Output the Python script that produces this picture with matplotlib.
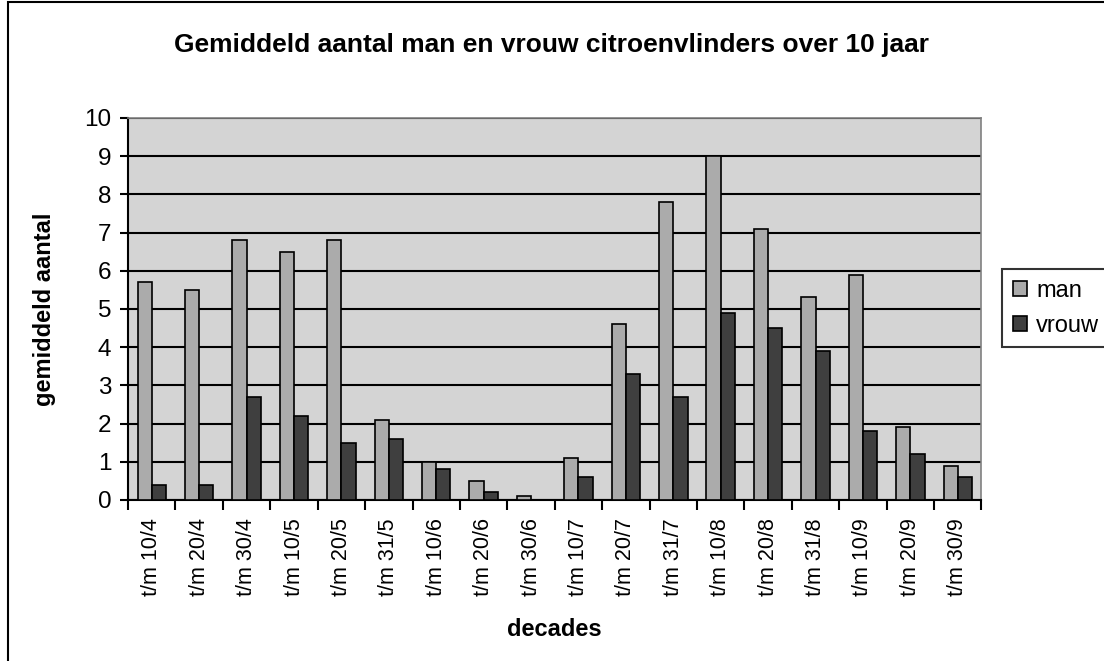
import numpy as np
import matplotlib.pyplot as plt
from matplotlib.patches import Rectangle

DECADES = ["t/m 10/4", "t/m 20/4", "t/m 30/4", "t/m 10/5", "t/m 20/5", "t/m 31/5",
           "t/m 10/6", "t/m 20/6", "t/m 30/6", "t/m 10/7", "t/m 20/7", "t/m 31/7",
           "t/m 10/8", "t/m 20/8", "t/m 31/8", "t/m 10/9", "t/m 20/9", "t/m 30/9"]
MAN = [5.7, 5.5, 6.8, 6.5, 6.8, 2.1, 1.0, 0.5, 0.1, 1.1, 4.6, 7.8, 9.0, 7.1, 5.3, 5.9, 1.9, 0.9]
VROUW = [0.4, 0.4, 2.7, 2.2, 1.5, 1.6, 0.8, 0.2, 0.0, 0.6, 3.3, 2.7, 4.9, 4.5, 3.9, 1.8, 1.2, 0.6]

plt.rcParams["font.family"] = ["Liberation Sans", "DejaVu Sans"]


def main():
    fig = plt.figure(figsize=(11.04, 6.61), dpi=100)
    ax = fig.add_axes([0.116, 0.2436, 0.773, 0.578])

    # outer chart border
    fig.patches.append(Rectangle((8 / 1104, -0.01), 1.1, 1 - 2 / 661 + 0.01,
                                 transform=fig.transFigure, fill=False,
                                 edgecolor="black", linewidth=1.5))

    x = np.arange(len(DECADES))
    w = 0.3
    ax.bar(x - w / 2, MAN, w, color="#ababab", edgecolor="black", linewidth=1.2,
           label="man", zorder=3)
    ax.bar(x + w / 2, VROUW, w, color="#3f3f3f", edgecolor="black", linewidth=1.2,
           label="vrouw", zorder=3)

    ax.set_facecolor("#d4d4d4")
    ax.set_xlim(-0.5, len(DECADES) - 0.5)
    ax.set_ylim(0, 10)
    ax.set_yticks(range(0, 11))
    ax.yaxis.grid(True, color="black", linewidth=1.5, zorder=1)
    ax.set_axisbelow(True)

    ax.set_xticks(x)
    ax.set_xticklabels(DECADES, rotation=90, fontsize=15.5)
    ax.set_xticks(np.arange(-0.5, len(DECADES)), minor=True)
    ax.tick_params(axis="x", which="major", length=0, pad=13)
    ax.tick_params(axis="x", which="minor", length=7, width=1.5, direction="out")
    ax.tick_params(axis="y", length=6, width=1.5, labelsize=17.5, pad=6)

    for side in ("top", "right"):
        ax.spines[side].set_color("#808080")
        ax.spines[side].set_linewidth(1.2)
    for side in ("left", "bottom"):
        ax.spines[side].set_linewidth(1.5)

    ax.set_xlabel("decades", fontsize=17, fontweight="bold", labelpad=16)
    ax.set_ylabel("gemiddeld aantal", fontsize=17, fontweight="bold", labelpad=20)
    fig.text(0.5, 1 - 45 / 661, "Gemiddeld aantal man en vrouw citroenvlinders over 10 jaar",
             ha="center", va="center", fontsize=19, fontweight="bold")

    leg = fig.legend(loc="upper left", bbox_to_anchor=(1002 / 1104, 1 - 269 / 661),
                     fontsize=17, frameon=True, fancybox=False, edgecolor="black",
                     handlelength=0.6, handleheight=0.6, handletextpad=0.4,
                     borderpad=0.45, labelspacing=0.55, borderaxespad=0)
    leg.get_frame().set_linewidth(1.5)

    fig.savefig("out.png", dpi=100)


if __name__ == "__main__":
    main()
